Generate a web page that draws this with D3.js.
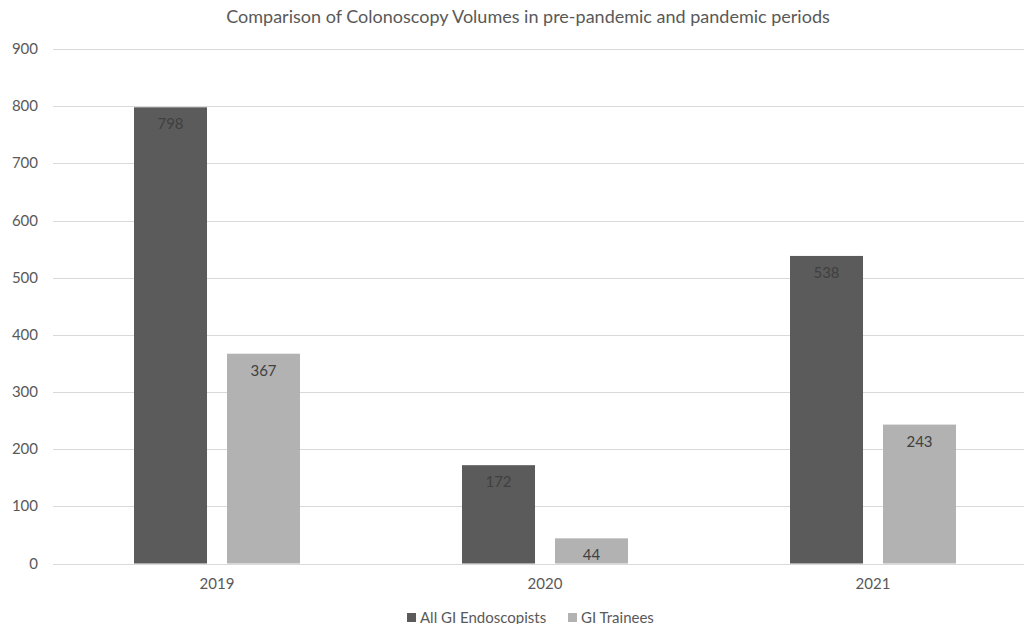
<!DOCTYPE html>
<html>
<head>
<meta charset="utf-8">
<script src="https://cdn.jsdelivr.net/npm/d3@7"></script>
<style>
  body { margin: 0; background: #ffffff; }
  svg { display: block; font-family: Lato, "Noto Sans", sans-serif; }
</style>
</head>
<body>
<div id="chart"></div>
<script>
// chart data
var years = ['2019', '2020', '2021'];
var seriesNames = ['All GI Endoscopists', 'GI Trainees'];
var endoscopists = [798, 172, 538];
var trainees = [367, 44, 243];
var yTicks = [0, 100, 200, 300, 400, 500, 600, 700, 800, 900];

var seriesValues = [endoscopists, trainees];
var seriesColors = ['#5b5b5b', '#b2b2b2'];

var width = 1024, height = 624;

var svg = d3.select('#chart').append('svg')
    .attr('width', width)
    .attr('height', height);

// plot area runs a little past the right edge, as in the original crop
var x0 = d3.scaleBand().domain(years).range([53, 1037]).padding(0);
var x1 = d3.scaleBand().domain(seriesNames)
    .range([0, x0.bandwidth()])
    .paddingInner(0.215)
    .paddingOuter(0.871);
var y = d3.scaleLinear().domain([0, 900]).range([563.5, 49]);

// gridlines
svg.append('g')
    .selectAll('line')
    .data(yTicks)
    .enter().append('line')
    .attr('x1', 53)
    .attr('x2', width)
    .attr('y1', function (d) { return Math.round(y(d)) + 0.5; })
    .attr('y2', function (d) { return Math.round(y(d)) + 0.5; })
    .attr('stroke', '#d9d9d9')
    .attr('stroke-width', 1);

// y tick labels
svg.append('g')
    .selectAll('text')
    .data(yTicks)
    .enter().append('text')
    .attr('x', 38)
    .attr('y', function (d) { return y(d) + 5; })
    .attr('text-anchor', 'end')
    .attr('fill', '#595959')
    .attr('font-size', 15)
    .text(function (d) { return d; });

// bars
var groups = svg.append('g')
    .selectAll('g')
    .data(years)
    .enter().append('g')
    .attr('transform', function (d) { return 'translate(' + x0(d) + ',0)'; });

groups.selectAll('rect')
    .data(function (d, i) {
        return seriesNames.map(function (s, si) {
            return { series: s, value: seriesValues[si][i], color: seriesColors[si] };
        });
    })
    .enter().append('rect')
    .attr('x', function (d) { return x1(d.series); })
    .attr('width', x1.bandwidth())
    .attr('y', function (d) { return y(d.value); })
    .attr('height', function (d) { return y(0) - y(d.value); })
    .attr('fill', function (d) { return d.color; });

// data labels, inside end
groups.selectAll('text')
    .data(function (d, i) {
        return seriesNames.map(function (s, si) {
            return { series: s, value: seriesValues[si][i] };
        });
    })
    .enter().append('text')
    .attr('x', function (d) { return x1(d.series) + x1.bandwidth() / 2; })
    .attr('y', function (d) { return y(d.value) + 22; })
    .attr('text-anchor', 'middle')
    .attr('fill', '#404040')
    .attr('font-size', 15)
    .text(function (d) { return d.value; });

// x category labels
svg.append('g')
    .selectAll('text')
    .data(years)
    .enter().append('text')
    .attr('x', function (d) { return x0(d) + x0.bandwidth() / 2; })
    .attr('y', 589)
    .attr('text-anchor', 'middle')
    .attr('fill', '#595959')
    .attr('font-size', 15)
    .text(function (d) { return d; });

// title
svg.append('text')
    .attr('x', 528)
    .attr('y', 23)
    .attr('text-anchor', 'middle')
    .attr('fill', '#595959')
    .attr('font-size', 18)
    .text('Comparison of Colonoscopy Volumes in pre-pandemic and pandemic periods');

// legend
var legendX = [407, 568];
var legend = svg.append('g')
    .selectAll('g')
    .data(seriesNames)
    .enter().append('g')
    .attr('transform', function (d, i) { return 'translate(' + legendX[i] + ',613)'; });

legend.append('rect')
    .attr('width', 9)
    .attr('height', 9)
    .attr('fill', function (d, i) { return seriesColors[i]; });

legend.append('text')
    .attr('x', 13)
    .attr('y', 9.5)
    .attr('fill', '#595959')
    .attr('font-size', 15)
    .text(function (d) { return d; });
</script>
</body>
</html>
